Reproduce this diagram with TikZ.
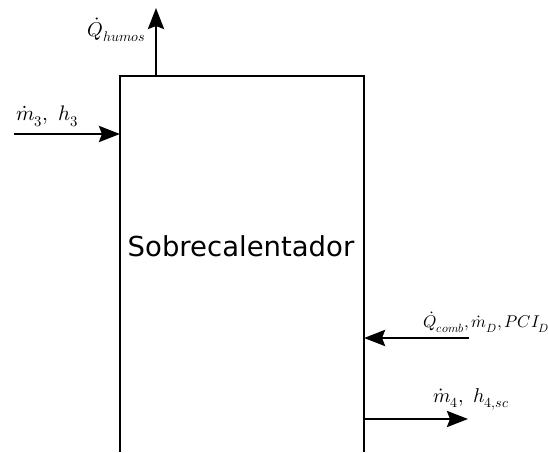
\documentclass[tikz,border=0pt]{standalone}
\usepackage{unicode-math}
\usetikzlibrary{arrows.meta}
\newfontfamily\boxfont{DejaVu Sans}
\begin{document}
\begin{tikzpicture}[x=1pt,y=1pt,
  flow/.style={line width=2.8pt,-{Stealth[length=21pt,width=16pt,inset=3pt]}},
  lbl/.style={inner sep=0pt,font=\fontsize{20}{24}\selectfont}]
\useasboundingbox (0,0) rectangle (548,452);
\coordinate (bl) at (120,0);
\coordinate (tl) at (120,376);
\coordinate (tr) at (364,376);
\coordinate (br) at (364,0);
\draw[line width=1.8pt] (bl) -- (tl) -- (tr) -- (br);
\node[font=\boxfont\fontsize{27.5}{30}\selectfont] (name) at (241,206) {Sobrecalentador};
% top output
\coordinate (topbase) at (156,376);
\coordinate (toptip) at (156,444);
\draw[flow] (topbase) -- (toptip);
\node[lbl,anchor=base east] (qh) at (146,415) {$\dot Q_{humos}$};
% left inlet
\coordinate (inL) at (14,318);
\coordinate (inLend) at (120,318);
\draw[flow] (inL) -- (inLend);
\node[lbl,anchor=base west,font=\fontsize{21}{24}\selectfont] (m3) at (16,331) {$\dot m_3,\ h_3$};
% right inlet
\coordinate (inR) at (469,114);
\coordinate (inRend) at (364,114);
\draw[flow] (inR) -- (inRend);
\node[lbl,anchor=base west,font=\fontsize{17}{20}\selectfont] (qc) at (423,124) {$\dot Q_{comb}, \dot m_D, PCI_D$};
% outlet
\coordinate (outs) at (364,33);
\coordinate (oute) at (468,33);
\draw[flow] (outs) -- (oute);
\node[lbl,anchor=base west] (m4) at (433,49) {$\dot m_4,\ h_{4,sc}$};
\end{tikzpicture}
\end{document}
